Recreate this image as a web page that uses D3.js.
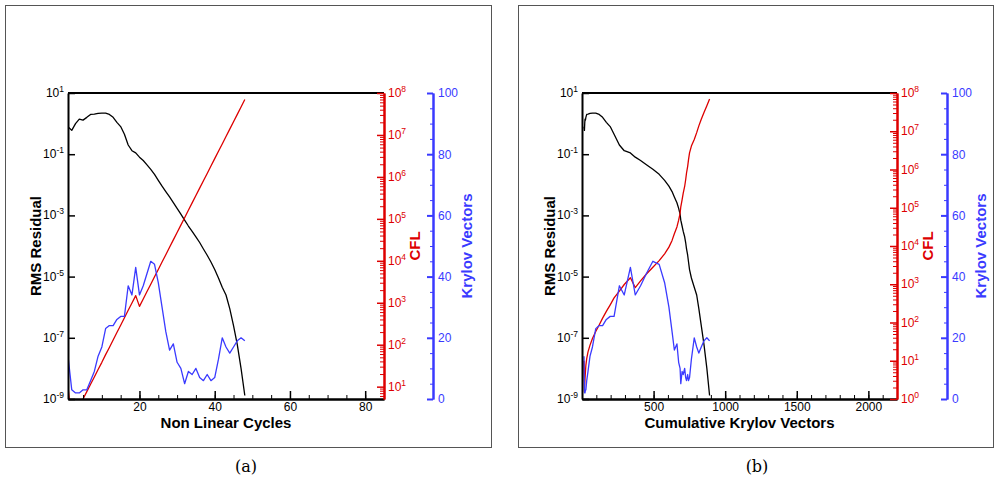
<!DOCTYPE html>
<html>
<head>
<meta charset="utf-8">
<script src="https://cdn.jsdelivr.net/npm/d3@7"></script>
<style>
  body { margin: 0; background: #fff; }
  svg { display: block; font-family: "Liberation Sans", Arial, sans-serif; }
</style>
</head>
<body>
<div id="chart"></div>
<script>
// non linear cycle number
const cycles = [1, 2, 3, 4, 5, 6, 7, 8, 9, 10, 11, 12, 13, 14, 15, 16, 17, 18, 19, 20,
                21, 22, 23, 24, 25, 26, 27, 28, 29, 30, 31, 32, 33, 34, 35, 36, 37, 38, 39, 40,
                41, 42, 43, 44, 45, 46, 47, 48];

const residual = [0.79, 0.6, 1.0, 1.4, 1.3, 1.6, 2.0, 2.05, 2.15, 2.2,
                  2.2, 2.0, 1.6, 1.1, 0.8, 0.45, 0.2, 0.13, 0.11, 0.08,
                  0.062, 0.045, 0.032, 0.022, 0.014, 0.009, 0.006, 0.004, 0.0026, 0.0017,
                  0.0011, 7e-4, 4.5e-4, 3e-4, 2e-4, 1.3e-4, 8e-5, 5e-5, 3e-5, 1.7e-5,
                  9e-6, 4.5e-6, 2.5e-6, 9e-7, 2.5e-7, 6e-8, 1e-8, 1.3e-9];

const cfl = [10, 1.5, 2.25, 3.4, 5.1, 7.6, 11.4, 17, 25.6, 38,
             58, 86, 130, 195, 290, 440, 660, 985, 1480, 820,
             1230, 1850, 2770, 4150, 6230, 9340, 14000, 21000, 31500, 47300,
             71000, 106000, 160000, 240000, 360000, 540000, 810000, 1.21e6, 1.82e6, 2.73e6,
             4.1e6, 6.1e6, 9.2e6, 1.38e7, 2.07e7, 3.1e7, 4.65e7, 6.98e7];

const krylov = [14, 3, 2, 2, 3, 3, 6, 9, 14, 17,
                23, 24, 24, 26, 27, 27, 37, 34, 43, 34,
                37, 41, 45, 44, 38, 30, 22, 16, 18, 12,
                10, 5, 9, 8, 10, 7, 6, 8, 6, 7,
                13, 20, 17, 15, 17, 19, 20, 19];

// x of panel (b): running total of krylov vectors
const cumulative = d3.cumsum(krylov);

const residualTicks = [1e1, 1e-1, 1e-3, 1e-5, 1e-7, 1e-9];
const cflTicksA = [1e1, 1e2, 1e3, 1e4, 1e5, 1e6, 1e7, 1e8];
const cflTicksB = [1e0, 1e1, 1e2, 1e3, 1e4, 1e5, 1e6, 1e7, 1e8];
const krylovTicks = [0, 20, 40, 60, 80, 100];
const cycleTicks = [20, 40, 60, 80];
const cumulativeTicks = [500, 1000, 1500, 2000];

const RED = '#dd0000';
const BLUE = '#3a3aff';
const FONT = '"Liberation Sans", Arial, sans-serif';

const svg = d3.select('#chart')
              .append('svg')
                .attr('width', 995)
                .attr('height', 489);

const supLabel = (x, y, v, anchor, color) => {
    let t = svg.append('text')
               .attr('x', x)
               .attr('y', y)
               .attr('text-anchor', anchor)
               .attr('fill', color)
               .attr('font-size', '12px');
    t.append('tspan').text('10');
    t.append('tspan')
        .attr('dy', -5)
        .attr('font-size', '8.5px')
        .text(Math.round(Math.log10(v)));
};

const logMinors = (domain) => {
    let out = [];
    for (let e = Math.floor(Math.log10(domain[0])); e < Math.log10(domain[1]); e++) {
        for (let k = 2; k <= 9; k++) {
            let v = k * Math.pow(10, e);
            if (v >= domain[0] && v <= domain[1]) out.push(v);
        }
    }
    return out;
};

const styleAxis = (g, color, domainWidth, tickWidth) => {
    g.attr('font-family', FONT).attr('font-size', 12);
    g.select('.domain').attr('stroke', color).attr('stroke-width', domainWidth);
    g.selectAll('.tick line').attr('stroke', color).attr('stroke-width', tickWidth);
    g.selectAll('.tick text').attr('fill', color);
};

const drawPanel = (p) => {
    const top = 93, bottom = 399;

    let xScale = d3.scaleLinear().domain(p.xDomain).range([p.left, p.right]);
    let yRes = d3.scaleLog().domain([1e-9, 1e1]).range([bottom, top]);
    let yCfl = d3.scaleLog().domain(p.cflDomain).range([bottom, top]);
    let yKry = d3.scaleLinear().domain([0, 100]).range([bottom, top]);

    // panel frame
    svg.append('rect')
        .attr('x', p.frame[0] + 0.5)
        .attr('y', 5.5)
        .attr('width', p.frame[1] - p.frame[0])
        .attr('height', 442)
        .attr('fill', 'none')
        .attr('stroke', '#555')
        .attr('stroke-width', 1);

    svg.append('clipPath')
        .attr('id', p.id)
        .append('rect')
            .attr('x', p.left)
            .attr('y', top)
            .attr('width', p.right - p.left)
            .attr('height', bottom - top);

    let rows = cycles.map((c, i) => ({
        x: p.xValues[i], res: residual[i], cfl: cfl[i], kry: krylov[i]
    }));

    let plot = svg.append('g').attr('clip-path', `url(#${p.id})`);

    const addLine = (scale, field, color) => {
        plot.append('path')
            .datum(rows)
            .attr('fill', 'none')
            .attr('stroke', color)
            .attr('stroke-width', 1.3)
            .attr('stroke-linejoin', 'round')
            .attr('d', d3.line()
                        .x(d => xScale(d.x))
                        .y(d => scale(d[field])));
    };

    addLine(yRes, 'res', '#000');
    addLine(yCfl, 'cfl', RED);
    addLine(yKry, 'kry', BLUE);

    // top border
    svg.append('line')
        .attr('x1', p.left).attr('x2', p.right)
        .attr('y1', top).attr('y2', top)
        .attr('stroke', '#000').attr('stroke-width', 2);

    // Eixo X
    let xMinor = svg.append('g')
        .attr('transform', `translate(0,${bottom})`)
        .call(d3.axisBottom(xScale).tickValues(p.xMinor).tickSize(-4).tickSizeOuter(0).tickFormat(''));
    styleAxis(xMinor, '#000', 2, 1);

    let xAxis = svg.append('g')
        .attr('transform', `translate(0,${bottom})`)
        .call(d3.axisBottom(xScale).tickValues(p.xTicks).tickSize(-8).tickSizeOuter(0)
                .tickPadding(3).tickFormat(d3.format('d')));
    styleAxis(xAxis, '#000', 2, 1.5);

    svg.append('text')
        .attr('x', (p.left + p.right) / 2)
        .attr('y', 428)
        .attr('text-anchor', 'middle')
        .attr('font-size', '15px')
        .attr('font-weight', 'bold')
        .text(p.xTitle);

    // Eixo Y residual
    let yAxis = svg.append('g')
        .attr('transform', `translate(${p.left},0)`)
        .call(d3.axisLeft(yRes).tickValues(residualTicks).tickSize(-7).tickSizeOuter(0).tickFormat(''));
    styleAxis(yAxis, '#000', 2, 1.5);
    residualTicks.forEach(v => supLabel(p.left - 4, yRes(v) + 4, v, 'end', '#000'));

    svg.append('text')
        .attr('transform', `translate(${p.left - 27},${(top + bottom) / 2}) rotate(-90)`)
        .attr('text-anchor', 'middle')
        .attr('font-size', '15px')
        .attr('font-weight', 'bold')
        .text('RMS Residual');

    // Eixo CFL
    let cflMinor = svg.append('g')
        .attr('transform', `translate(${p.right},0)`)
        .call(d3.axisRight(yCfl).tickValues(logMinors(p.cflDomain)).tickSize(-4).tickSizeOuter(0).tickFormat(''));
    styleAxis(cflMinor, RED, 2, 1);
    let cflAxis = svg.append('g')
        .attr('transform', `translate(${p.right},0)`)
        .call(d3.axisRight(yCfl).tickValues(p.cflTicks).tickSize(-7).tickSizeOuter(0).tickFormat(''));
    styleAxis(cflAxis, RED, 2, 1.5);
    p.cflTicks.forEach(v => supLabel(p.right + 4, yCfl(v) + 4, v, 'start', RED));

    svg.append('text')
        .attr('transform', `translate(${p.right + 36},${(top + bottom) / 2}) rotate(-90)`)
        .attr('text-anchor', 'middle')
        .attr('font-size', '15px')
        .attr('font-weight', 'bold')
        .attr('fill', RED)
        .text('CFL');

    // Eixo Krylov
    let kryMinor = svg.append('g')
        .attr('transform', `translate(${p.blueX},0)`)
        .call(d3.axisRight(yKry).tickValues(d3.range(5, 100, 5).filter(v => v % 20 != 0)).tickSize(-3).tickSizeOuter(0).tickFormat(''));
    styleAxis(kryMinor, BLUE, 2, 1);
    let kryAxis = svg.append('g')
        .attr('transform', `translate(${p.blueX},0)`)
        .call(d3.axisRight(yKry).tickValues(krylovTicks).tickSize(-6).tickSizeOuter(0).tickPadding(5));
    styleAxis(kryAxis, BLUE, 2, 2);

    svg.append('text')
        .attr('transform', `translate(${p.blueX + 39},${(top + bottom) / 2}) rotate(-90)`)
        .attr('text-anchor', 'middle')
        .attr('font-size', '15px')
        .attr('font-weight', 'bold')
        .attr('fill', BLUE)
        .text('Krylov Vectors');

    svg.append('text')
        .attr('x', p.captionX)
        .attr('y', 472)
        .attr('text-anchor', 'middle')
        .attr('font-family', '"DejaVu Serif", "Liberation Serif", serif')
        .attr('font-size', '16px')
        .text(p.caption);
};

drawPanel({
    id: 'clipA', frame: [5, 491], left: 68, right: 384, blueX: 433,
    xDomain: [1, 85], xValues: cycles, xTicks: cycleTicks,
    xMinor: d3.range(5, 86, 5), cflDomain: [5.08, 1e8], cflTicks: cflTicksA,
    xTitle: 'Non Linear Cycles', caption: '(a)', captionX: 246
});

drawPanel({
    id: 'clipB', frame: [518, 993], left: 582, right: 897, blueX: 947,
    xDomain: [0, 2200], xValues: cumulative, xTicks: cumulativeTicks,
    xMinor: d3.range(100, 2201, 100), cflDomain: [1, 1e8], cflTicks: cflTicksB,
    xTitle: 'Cumulative Krylov Vectors', caption: '(b)', captionX: 757
});
</script>
</body>
</html>
